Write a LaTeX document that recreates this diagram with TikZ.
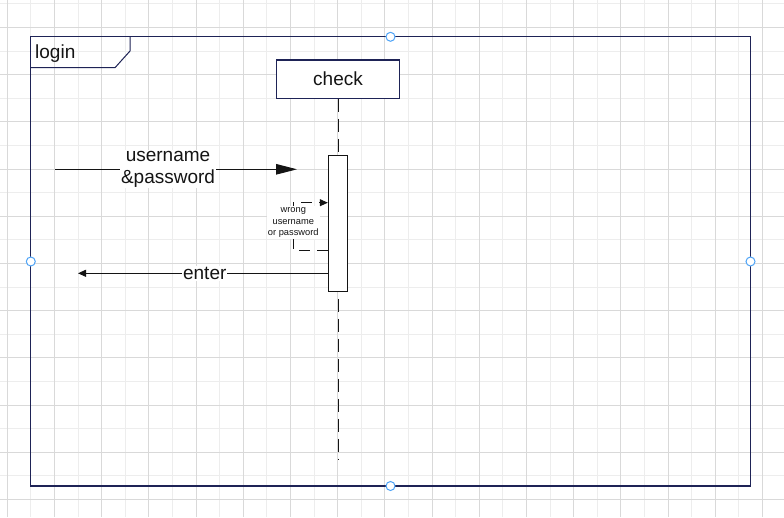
\documentclass[tikz,border=0pt]{standalone}
\usepackage{fontspec}
\setmainfont{Liberation Sans}
\usetikzlibrary{arrows.meta}
\definecolor{navy}{HTML}{1E2356}
\definecolor{gridd}{HTML}{D9D9D9}
\definecolor{gridl}{HTML}{EDEDED}
\definecolor{handle}{HTML}{4DA3F7}
\definecolor{ink}{HTML}{141414}
\begin{document}
\begin{tikzpicture}[x=1pt,y=-1pt,
  lbl/.style={fill=white, inner sep=1pt, font=\fontsize{19}{21.7}\selectfont, align=center, text=ink},
  smalllbl/.style={fill=white, inner sep=1pt, font=\fontsize{9.3}{11.8}\selectfont, align=center, text=ink},
  handlebox/.style={circle, draw=handle, fill=white, line width=1pt, minimum size=9pt, inner sep=0pt},
  objbox/.style={draw=navy, fill=white, line width=1.2pt, minimum width=122.6pt, minimum height=38.3pt, inner sep=0pt, font=\fontsize{19}{21.7}\selectfont, text=ink},
  actbox/.style={draw=ink, fill=white, line width=1pt, minimum width=19pt, minimum height=136pt, inner sep=0pt},
  msg/.style={draw=ink, line width=1pt},
  bigtip/.style={-{Triangle[length=21pt,width=10.5pt]}},
  smalltip/.style={-{Triangle[length=8pt,width=7pt]}},
  lifedash/.style={dash pattern=on 13pt off 7pt},
  loopdash/.style={dash pattern=on 11pt off 7pt}
]
\useasboundingbox (0,0) rectangle (784,517);
\fill[white] (0,0) rectangle (784,517);
% grid
\foreach \k in {1,3,...,33}{\draw[gridl, line width=1pt] ({7.3+23.6*\k},0) -- ({7.3+23.6*\k},517);}
\foreach \k in {0,2,...,20}{\draw[gridl, line width=1pt] (0,{3.9+23.6*\k}) -- (784,{3.9+23.6*\k});}
\foreach \k in {0,2,...,32}{\draw[gridd, line width=1pt] ({7.3+23.6*\k},0) -- ({7.3+23.6*\k},517);}
\foreach \k in {1,3,...,21}{\draw[gridd, line width=1pt] (0,{3.9+23.6*\k}) -- (784,{3.9+23.6*\k});}
% frame
\draw[navy, line width=1.3pt] (30.8,36.8) rectangle (750.5,486);
\draw[navy, line width=1pt] (30.8,67.7) -- (115,67.7) -- (130,51) -- (130,36.8);
\node[anchor=base west, inner sep=0pt, font=\fontsize{19}{21.7}\selectfont, text=ink] (login) at (35,58.3) {login};
% lifeline
\node[objbox] (check) at (338,79.2) {check};
\coordinate (lifeend) at (338,459);
\draw[ink, line width=1pt, lifedash] (check.south) -- (lifeend);
\node[actbox] (act) at (337.8,223) {};
% message 1
\coordinate (m1s) at (55,169.3);
\coordinate (m1e) at (297,169.3);
\draw[msg, bigtip] (m1s) -- node[lbl, pos=0.467] (m1lbl) {username\\\&password} (m1e);
% message 2 (enter)
\coordinate (m2e) at (78,273.3);
\coordinate (m2s) at (act.west |- m2e);
\draw[msg, smalltip] (m2s) -- node[lbl, pos=0.4926] (m2lbl) {enter} (m2e);
% self loop
\coordinate (lb) at (293.3,250.3);
\coordinate (lt) at (293.3,202.7);
\coordinate (lbs) at (act.west |- lb);
\coordinate (lte) at (act.west |- lt);
\draw[msg, loopdash, smalltip] (lbs) -- (lb) -- node[smalllbl, pos=0.584] (looplbl) {wrong\\username\\or password} (lt) -- (lte);
% selection handles
\node[handlebox] (h1) at (390.5,36.8) {};
\node[handlebox] (h2) at (30.8,261.5) {};
\node[handlebox] (h3) at (750.5,261.5) {};
\node[handlebox] (h4) at (390.5,486) {};
\end{tikzpicture}
\end{document}
